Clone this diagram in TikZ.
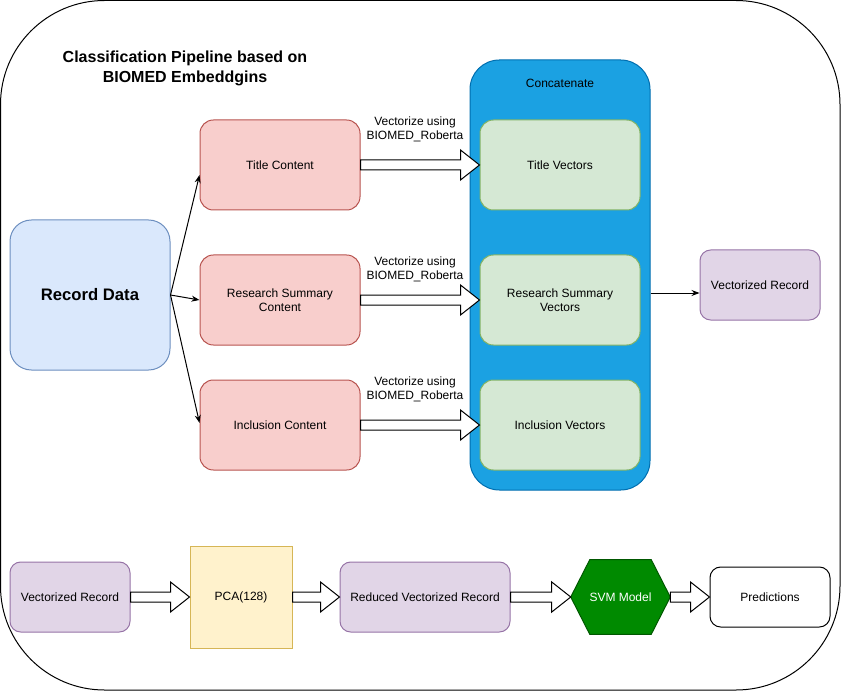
\documentclass[tikz,border=0pt]{standalone}
\usepackage{fontspec}
\setmainfont{Liberation Sans}
\usetikzlibrary{arrows.meta,
                backgrounds,
                calc,
                positioning
            }

\definecolor{recfill}{HTML}{DAE8FC}
\definecolor{recline}{HTML}{6C8EBF}
\definecolor{contfill}{HTML}{F8CECC}
\definecolor{contline}{HTML}{B85450}
\definecolor{vecfill}{HTML}{D5E8D4}
\definecolor{vecline}{HTML}{82B366}
\definecolor{catfill}{HTML}{1BA1E2}
\definecolor{catline}{HTML}{006EAF}
\definecolor{vrfill}{HTML}{E1D5E7}
\definecolor{vrline}{HTML}{9673A6}
\definecolor{pcafill}{HTML}{FFF2CC}
\definecolor{pcaline}{HTML}{D6B656}
\definecolor{svmfill}{HTML}{008A00}
\definecolor{svmline}{HTML}{005700}

\tikzset{
    plain/.style={font=\fontsize{9}{10.5}\selectfont, align=center, inner sep=0pt},
    box/.style={plain, draw, line width=0.75pt, rounded corners=10pt,
                minimum width=120pt, minimum height=67.5pt},
    contentbox/.style={box, fill=contfill, draw=contline},
    vectorbox/.style={box, fill=vecfill, draw=vecline},
    recordbox/.style={box, fill=vrfill, draw=vrline, rounded corners=8pt,
                minimum width=90pt, minimum height=52.5pt},
    fatline/.style={draw=black, fill=white, line width=0.75pt},
    thinarrow/.style={-{Stealth[length=6pt, width=4.5pt]}, line width=0.75pt}
}

% block arrow from the east side of #1 to the west side of #2
\newcommand{\fatarrow}[2]{%
    \draw[fatline] let \p1=(#1.east), \p2=(#2.west) in
        (\x1,\y1+3.75pt) -- (\x2-14.25pt,\y1+3.75pt) -- (\x2-14.25pt,\y1+11.25pt)
        -- (\x2,\y1) -- (\x2-14.25pt,\y1-11.25pt) -- (\x2-14.25pt,\y1-3.75pt)
        -- (\x1,\y1-3.75pt) -- cycle;}

\begin{document}
\begin{tikzpicture}[x=0.75pt, y=-0.75pt]
    \useasboundingbox (0,0) rectangle (841,691);
    \draw[line width=0.75pt, rounded corners=78pt] (0.5,0.5) rectangle (840,690);

    \node[plain, font=\bfseries\fontsize{12}{15}\selectfont] (title) at (185,68)
        {Classification Pipeline based on\\BIOMED Embeddgins};

    % upper part
    \node[box, fill=recfill, draw=recline, rounded corners=16pt,
          minimum height=112.5pt, font=\bfseries\fontsize{12.5}{15}\selectfont] (record) at (90,295) {Record Data};

    \node[contentbox] (tcont) at (280,165) {Title Content};
    \node[contentbox] (rcont) at (280,300) {Research Summary\\Content};
    \node[contentbox] (icont) at (280,425) {Inclusion Content};

    \node[draw=catline, fill=catfill, line width=0.75pt, rounded corners=22pt,
          minimum width=135pt, minimum height=322.5pt] (concat) at (560,275) {};
    \node[plain] (cattext) at (560,83) {Concatenate};

    \node[vectorbox] (tvec) at (560,165) {Title Vectors};
    \node[vectorbox] (rvec) at (560,300) {Research Summary\\Vectors};
    \node[vectorbox] (ivec) at (560,425) {Inclusion Vectors};

    \node[recordbox] (vecrec) at (760,285) {Vectorized Record};

    \draw[thinarrow] (record.east) -- ([yshift=-7.5pt]tcont.west);
    \draw[thinarrow] (record.east) -- (rcont.west);
    \draw[thinarrow] (record.east) -- ([yshift=1.5pt]icont.west);

    \fatarrow{tcont}{tvec}
    \fatarrow{rcont}{rvec}
    \fatarrow{icont}{ivec}
    \node[plain] (tlabel) at (415,129) {Vectorize using\\BIOMED\_Roberta};
    \node[plain] (rlabel) at (415,269.5) {Vectorize using\\BIOMED\_Roberta};
    \node[plain] (ilabel) at (415,389) {Vectorize using\\BIOMED\_Roberta};

    \draw[thinarrow] ([yshift=-6pt]vecrec.west -| concat.east) -- ([yshift=-6pt]vecrec.west);

    % lower part
    \node[recordbox] (vrec) at (70,597) {Vectorized Record};
    \node[box, fill=pcafill, draw=pcaline, rounded corners=0pt,
          minimum width=76.5pt, minimum height=76.5pt] (pca) at (241,597) {PCA(128)};
    \node[recordbox, minimum width=127.5pt] (rvrec) at (425,597) {Reduced Vectorized Record};
    \node[plain, text=white, minimum width=74.25pt, minimum height=55.5pt] (svm) at (620.5,597) {SVM Model};
    \node[box, fill=white, draw=black, rounded corners=8pt,
          minimum width=90pt, minimum height=45pt] (pred) at (770,597) {Predictions};

    \begin{scope}[on background layer]
        \draw[fill=svmfill, draw=svmline, line width=0.75pt] (svm.west)
            -- ([xshift=14.25pt]svm.north west) -- ([xshift=-14.25pt]svm.north east)
            -- (svm.east) -- ([xshift=-14.25pt]svm.south east)
            -- ([xshift=14.25pt]svm.south west) -- cycle;
    \end{scope}

    \fatarrow{vrec}{pca}
    \fatarrow{pca}{rvrec}
    \fatarrow{rvrec}{svm}
    \fatarrow{svm}{pred}
\end{tikzpicture}
\end{document}
